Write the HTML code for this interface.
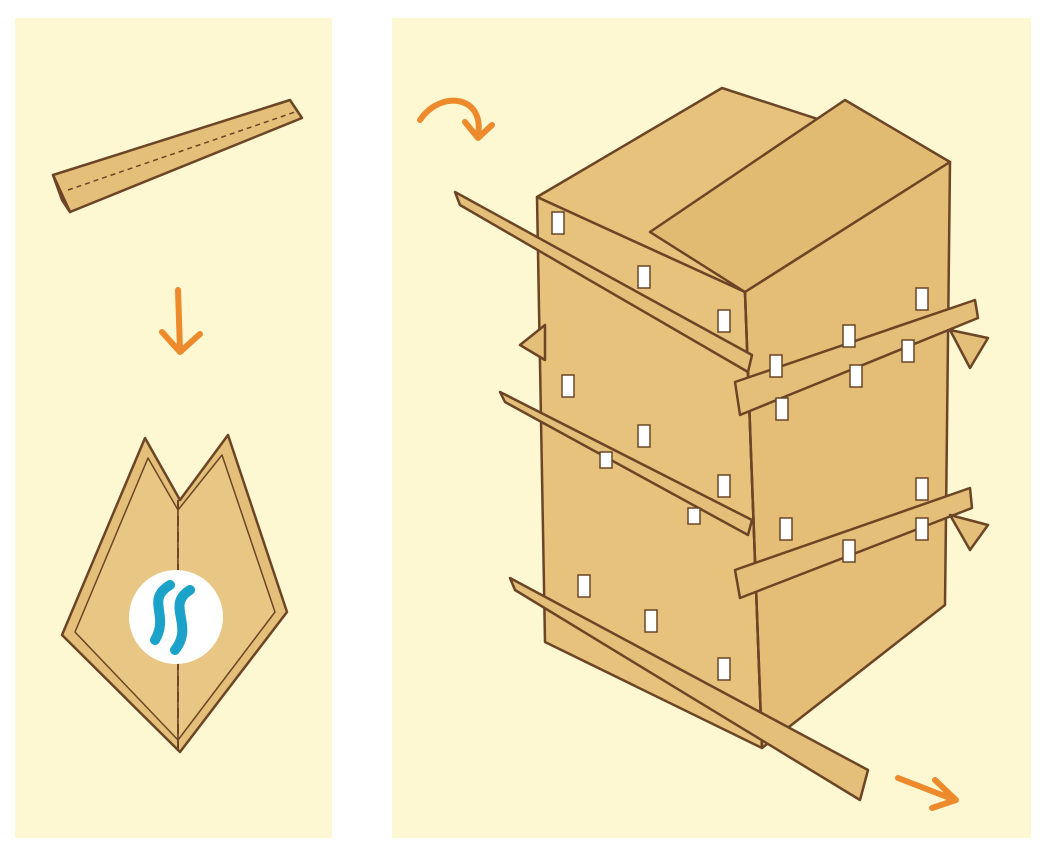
<!DOCTYPE html>
<html><head><meta charset="utf-8"><style>
html,body{margin:0;padding:0;background:#fff;}
svg{display:block}
</style></head><body>
<svg width="1046" height="850" viewBox="0 0 1046 850" xmlns="http://www.w3.org/2000/svg">
<rect x="0" y="0" width="1046" height="850" fill="#fff"/>
<rect x="15" y="18" width="317" height="820" fill="#fdf8d1"/>
<rect x="392" y="18" width="639" height="820" fill="#fdf8d1"/>
<g stroke="#6b4525" stroke-width="2.5" stroke-linejoin="round" fill="#e4bf7a">
<!-- left strip -->
<polygon points="53,175 290,100 302,118 70,212"/>
<polygon points="53,175 70,212 62,200" fill="#d3a964"/>
<line x1="68" y1="190" x2="295" y2="112" stroke-dasharray="5,4" stroke-width="1.5"/>
<!-- diamond -->
<polygon points="62,635 145,438 180,500 228,435 287,612 180,752" />
<polygon points="75,632 148,458 178,510 178,740" fill="#e8c784" stroke-width="1.5"/>
<polygon points="178,510 222,455 275,612 178,740" fill="#e8c784" stroke-width="1.5"/>
<line x1="178" y1="500" x2="178" y2="752" stroke-dasharray="10,6" stroke-width="2"/>
<!-- box -->
<polygon points="537,197 722,88 950,162 745,292" fill="#e6c27c"/>
<polygon points="650,232 845,100 950,162 745,292" fill="#e2bb73"/>
<polygon points="537,197 745,292 762,748 545,642" fill="#e6c27c"/>
<polygon points="745,292 950,162 945,605 762,748" fill="#e4bd76"/>
<line x1="745" y1="292" x2="762" y2="748"/>
<!-- left face strips -->
<polygon points="455,192 752,355 748,372 460,205"/>
<polygon points="500,392 752,520 748,535 505,402"/>
<polygon points="510,578 868,770 860,800 515,590"/>
<!-- right face strips -->
<polygon points="735,382 975,300 978,318 740,415"/>
<polygon points="735,570 970,488 972,508 740,598"/>
<polygon points="950,330 988,338 970,368" />
<polygon points="950,515 988,525 970,550" />
<polygon points="520,345 545,325 545,360"/>
</g>
<!-- tapes -->
<g fill="#fff" stroke="#6b4525" stroke-width="1.5">
<rect x="552" y="212" width="12" height="22"/><rect x="638" y="266" width="12" height="22"/><rect x="718" y="310" width="12" height="22"/>
<rect x="562" y="375" width="12" height="22"/><rect x="638" y="425" width="12" height="22"/><rect x="718" y="475" width="12" height="22"/>
<rect x="600" y="452" width="12" height="16"/><rect x="688" y="508" width="12" height="16"/>
<rect x="578" y="575" width="12" height="22"/><rect x="645" y="610" width="12" height="22"/><rect x="718" y="658" width="12" height="22"/>
<rect x="770" y="355" width="12" height="22"/><rect x="843" y="325" width="12" height="22"/><rect x="916" y="288" width="12" height="22"/>
<rect x="776" y="398" width="12" height="22"/><rect x="850" y="365" width="12" height="22"/><rect x="902" y="340" width="12" height="22"/>
<rect x="780" y="518" width="12" height="22"/><rect x="843" y="540" width="12" height="22"/><rect x="916" y="478" width="12" height="22"/><rect x="916" y="518" width="12" height="22"/>
</g>
<!-- logo -->
<circle cx="176" cy="617" r="47" fill="#fff"/>
<path d="M170,585 C145,600 170,615 155,640 M190,590 C165,605 195,625 175,650" stroke="#1aa2c8" stroke-width="10" fill="none" stroke-linecap="round"/>
<!-- arrows -->
<g stroke="#ec8a2c" stroke-width="6" fill="none" stroke-linecap="round" stroke-linejoin="round">
<path d="M178,290 L180,350 M162,332 L180,352 L200,334"/>
<path d="M420,120 C440,90 485,95 478,135 M465,122 L478,138 L492,125"/>
<path d="M898,778 L955,800 M935,780 L956,800 L932,808"/>
</g>
</svg>
</body></html>
